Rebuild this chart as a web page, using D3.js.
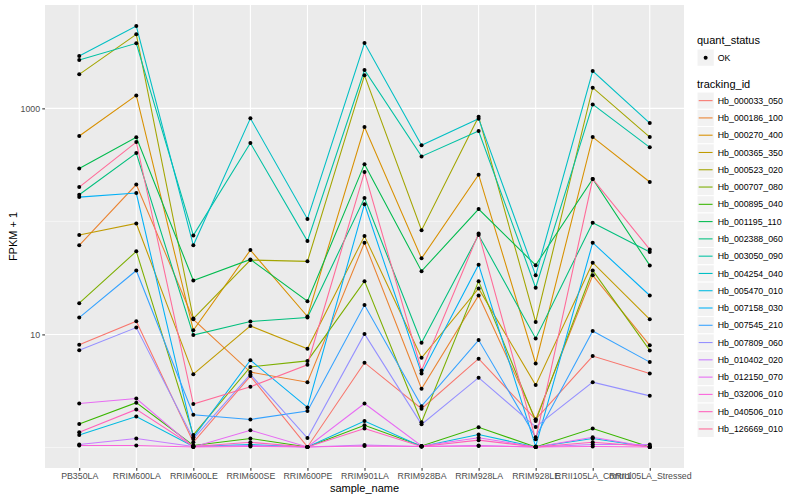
<!DOCTYPE html>
<html>
<head>
<meta charset="utf-8">
<script src="https://cdn.jsdelivr.net/npm/d3@7"></script>
<style>
	body { margin: 0; background: #fff; }
	text { font-family: "Liberation Sans", Arial, Helvetica, sans-serif; }
</style>
</head>
<body>
<svg id="chart"></svg>
<script>
'use strict';

// sample names on the x axis
var samples = ['PB350LA', 'RRIM600LA', 'RRIM600LE', 'RRIM600SE', 'RRIM600PE', 'RRIM901LA',
	'RRIM928BA', 'RRIM928LA', 'RRIM928LE', 'RRII105LA_Control', 'RRII105LA_Stressed'];

var Hb_000033_050 = [7.1, 12.1, 0.11, 3.28, 0.01, 4.62, 1.20, 5.10, 0.77, 5.43, 3.52];
var Hb_000186_100 = [60.4, 211, 12.6, 3.64, 2.78, 63.8, 2.31, 21.1, 0.77, 32.3, 7.0];
var Hb_000270_400 = [568, 1302, 9.9, 54.7, 13.4, 682, 46.1, 258, 4.53, 556, 222];
var Hb_000365_350 = [74.7, 94.9, 3.45, 10.9, 6.47, 73.1, 5.22, 24.5, 2.56, 42.1, 12.6];
var Hb_000523_020 = [1999, 4518, 12.8, 44.5, 43.3, 1958, 82.7, 844, 11.9, 1524, 556];
var Hb_000707_080 = [17.9, 53.3, 0.29, 4.16, 4.83, 28.6, 0.67, 28.6, 0.71, 35.8, 6.22];
var Hb_000895_040 = [0.61, 1.49, 0.04, 0.20, 0.01, 0.57, 0.03, 0.51, 0.01, 0.47, 0.01];
var Hb_001195_110 = [293, 553, 29.0, 45.1, 18.7, 320, 35.3, 127.5, 40.0, 236, 39.8];
var Hb_002388_060 = [171, 401, 8.86, 12.0, 13.1, 160, 7.45, 74.7, 8.22, 96.3, 52.5];
var Hb_003050_090 = [2674, 3759, 74.2, 492, 65.9, 2182, 375, 629, 24.9, 1083, 451];
var Hb_004254_040 = [2903, 5349, 60.4, 815, 104, 3783, 470, 810, 32.3, 2138, 740];
var Hb_005470_010 = [0.29, 0.88, 0.02, 0.06, 0.01, 0.71, 0.02, 0.30, 0.01, 0.20, 0.01];
var Hb_007158_030 = [163, 177, 0.23, 4.92, 1.26, 141, 3.52, 40.4, 0.02, 63.8, 21.1];
var Hb_007545_210 = [13.1, 35.8, 0.95, 0.77, 1.10, 17.2, 1.32, 7.91, 0.23, 9.7, 4.69];
var Hb_007809_060 = [6.26, 10.5, 0.19, 3.43, 0.21, 9.1, 0.60, 3.14, 0.52, 2.78, 1.86];
var Hb_010402_020 = [0.06, 0.20, 0.02, 0.04, 0.01, 0.05, 0.02, 0.04, 0.01, 0.06, 0.06];
var Hb_012150_070 = [1.45, 1.71, 0.01, 0.42, 0.01, 1.45, 0.03, 0.22, 0.01, 0.23, 0.01];
var Hb_032006_010 = [0.04, 0.04, 0.01, 0.02, 0.01, 0.03, 0.02, 0.03, 0.01, 0.02, 0.01];
var Hb_040506_010 = [0.36, 1.17, 0.02, 0.11, 0.01, 0.47, 0.02, 0.16, 0.01, 0.11, 0.02];
var Hb_126669_010 = [200, 502, 1.42, 2.44, 4.39, 272, 3.80, 77.3, 0.18, 236, 55.5];

var trackingIds = ['Hb_000033_050', 'Hb_000186_100', 'Hb_000270_400', 'Hb_000365_350', 'Hb_000523_020',
	'Hb_000707_080', 'Hb_000895_040', 'Hb_001195_110', 'Hb_002388_060', 'Hb_003050_090',
	'Hb_004254_040', 'Hb_005470_010', 'Hb_007158_030', 'Hb_007545_210', 'Hb_007809_060',
	'Hb_010402_020', 'Hb_012150_070', 'Hb_032006_010', 'Hb_040506_010', 'Hb_126669_010'];

var fpkmById = [Hb_000033_050, Hb_000186_100, Hb_000270_400, Hb_000365_350, Hb_000523_020,
	Hb_000707_080, Hb_000895_040, Hb_001195_110, Hb_002388_060, Hb_003050_090,
	Hb_004254_040, Hb_005470_010, Hb_007158_030, Hb_007545_210, Hb_007809_060,
	Hb_010402_020, Hb_012150_070, Hb_032006_010, Hb_040506_010, Hb_126669_010];

var yBreaks = [10, 1000],
	yMinorBreaks = [1, 100];

var WIDTH = 800,
	HEIGHT = 500;

var panel = {
	left: 45,
	right: 684,
	top: 5,
	bottom: 468,
};

var panelFill = '#EBEBEB',
	textGrey = '#4D4D4D',
	tickGrey = '#333333';

// R's hcl() (polar LUV) -> hex, so the palette matches ggplot's hue_pal
function hclToHex(h, c, l) {
	var hr = h * Math.PI / 180;
	var U = c * Math.cos(hr),
		V = c * Math.sin(hr);
	var Xn = 95.047, Yn = 100, Zn = 108.883;
	var Y = l > 8 ? Yn * Math.pow((l + 16) / 116, 3) : Yn * l / 903.3;
	var t = Xn + 15 * Yn + 3 * Zn;
	var u = U / (13 * l) + 4 * Xn / t,
		v = V / (13 * l) + 9 * Yn / t;
	var X = 9 * Y * u / (4 * v);
	var Z = -X / 3 - 5 * Y + 3 * Y / v;
	X /= 100; Y /= 100; Z /= 100;
	var rgb = [
		3.240479 * X - 1.537150 * Y - 0.498535 * Z,
		-0.969256 * X + 1.875992 * Y + 0.041556 * Z,
		0.055648 * X - 0.204043 * Y + 1.057311 * Z
	].map(function (c) {
		c = c <= 0.0031308 ? 12.92 * c : 1.055 * Math.pow(c, 1 / 2.4) - 0.055;
		return Math.round(255 * Math.max(0, Math.min(1, c)));
	});
	return d3.rgb(rgb[0], rgb[1], rgb[2]).formatHex();
}

var n = trackingIds.length;
var palette = trackingIds.map(function (d, i) {
	return hclToHex(15 + i * 360 / n, 100, 65);
});

var color = d3.scaleOrdinal()
	.domain(trackingIds)
	.range(palette);

var series = trackingIds.map(function (id, i) {
	return {
		id: id,
		values: samples.map(function (s, j) {
			return { sample: s, fpkm: fpkmById[i][j] };
		})
	};
});

var allPoints = [];
series.forEach(function (s) {
	s.values.forEach(function (v) { allPoints.push(v); });
});

var svg = d3.select('#chart')
	.attr('width', WIDTH)
	.attr('height', HEIGHT);

svg.append('rect')
	.attr('width', WIDTH)
	.attr('height', HEIGHT)
	.style('fill', '#fff');

// x: discrete, 0.6 step of padding each side like ggplot
var x = d3.scalePoint()
	.domain(samples)
	.range([panel.left, panel.right])
	.padding(0.6);

// y: log10 of FPKM + 1, expanded 5% each side
var ext = d3.extent(allPoints, function (d) { return Math.log10(d.fpkm + 1); });
var pad = (ext[1] - ext[0]) * 0.05;
var y = d3.scaleLog()
	.domain([Math.pow(10, ext[0] - pad), Math.pow(10, ext[1] + pad)])
	.range([panel.bottom, panel.top]);

svg.append('rect')
	.attr('x', panel.left)
	.attr('y', panel.top)
	.attr('width', panel.right - panel.left)
	.attr('height', panel.bottom - panel.top)
	.style('fill', panelFill);

svg.selectAll('.minor-grid')
	.data(yMinorBreaks)
	.enter()
	.append('line')
	.classed('minor-grid', 1)
	.attr('x1', panel.left)
	.attr('x2', panel.right)
	.attr('y1', function (d) { return y(d); })
	.attr('y2', function (d) { return y(d); })
	.style('stroke', '#fff')
	.style('stroke-width', 0.53);

svg.selectAll('.major-grid-y')
	.data(yBreaks)
	.enter()
	.append('line')
	.classed('major-grid-y', 1)
	.attr('x1', panel.left)
	.attr('x2', panel.right)
	.attr('y1', function (d) { return y(d); })
	.attr('y2', function (d) { return y(d); })
	.style('stroke', '#fff')
	.style('stroke-width', 1.07);

svg.selectAll('.major-grid-x')
	.data(samples)
	.enter()
	.append('line')
	.classed('major-grid-x', 1)
	.attr('x1', function (d) { return x(d); })
	.attr('x2', function (d) { return x(d); })
	.attr('y1', panel.top)
	.attr('y2', panel.bottom)
	.style('stroke', '#fff')
	.style('stroke-width', 1.07);

var line = d3.line()
	.x(function (d) { return x(d.sample); })
	.y(function (d) { return y(d.fpkm + 1); });

svg.selectAll('.gene-line')
	.data(series)
	.enter()
	.append('path')
	.classed('gene-line', 1)
	.attr('d', function (d) { return line(d.values); })
	.style('fill', 'none')
	.style('stroke', function (d) { return color(d.id); })
	.style('stroke-width', 1.07);

svg.selectAll('.gene-point')
	.data(allPoints)
	.enter()
	.append('circle')
	.classed('gene-point', 1)
	.attr('cx', function (d) { return x(d.sample); })
	.attr('cy', function (d) { return y(d.fpkm + 1); })
	.attr('r', 2)
	.style('fill', '#000');

// axes
var yAxis = svg.append('g')
	.attr('transform', 'translate(' + panel.left + ',0)')
	.call(d3.axisLeft(y)
		.tickValues(yBreaks)
		.tickFormat(d3.format('d'))
		.tickSize(2.74)
		.tickPadding(2.2));

var xAxis = svg.append('g')
	.attr('transform', 'translate(0,' + panel.bottom + ')')
	.call(d3.axisBottom(x)
		.tickSize(2.74)
		.tickPadding(2.2));

[yAxis, xAxis].forEach(function (g) {
	g.select('.domain').remove();
	g.selectAll('.tick line')
		.style('stroke', tickGrey)
		.style('stroke-width', 1.07);
	g.selectAll('.tick text')
		.style('fill', textGrey)
		.style('font-size', '8.8px')
		.style('font-family', '"Liberation Sans", Arial, sans-serif');
});

svg.append('text')
	.attr('x', (panel.left + panel.right) / 2)
	.attr('y', 492)
	.style('text-anchor', 'middle')
	.style('font-size', '11px')
	.style('fill', '#000')
	.text('sample_name');

svg.append('text')
	.attr('transform', 'translate(17,' + ((panel.top + panel.bottom) / 2) + ') rotate(-90)')
	.style('text-anchor', 'middle')
	.style('font-size', '11px')
	.style('fill', '#000')
	.text('FPKM + 1');

// legends
var KEY = 17.28,
	legendX = 697;

svg.append('text')
	.attr('x', legendX)
	.attr('y', 44)
	.style('font-size', '11px')
	.text('quant_status');

svg.append('rect')
	.attr('x', legendX)
	.attr('y', 49)
	.attr('width', KEY)
	.attr('height', KEY)
	.style('fill', '#F2F2F2')
	.style('stroke', '#fff');

svg.append('circle')
	.attr('cx', legendX + KEY / 2)
	.attr('cy', 49 + KEY / 2)
	.attr('r', 2)
	.style('fill', '#000');

svg.append('text')
	.attr('x', legendX + KEY + 3.5)
	.attr('y', 49 + KEY / 2)
	.attr('dy', '0.35em')
	.style('font-size', '8.8px')
	.text('OK');

svg.append('text')
	.attr('x', legendX)
	.attr('y', 88)
	.style('font-size', '11px')
	.text('tracking_id');

var keys = svg.selectAll('.legend-key')
	.data(trackingIds)
	.enter()
	.append('g')
	.classed('legend-key', 1)
	.attr('transform', function (d, i) {
		return 'translate(' + legendX + ',' + (92 + i * KEY) + ')';
	});

keys.append('rect')
	.attr('width', KEY)
	.attr('height', KEY)
	.style('fill', '#F2F2F2')
	.style('stroke', '#fff');

keys.append('line')
	.attr('x1', 1.7)
	.attr('x2', KEY - 1.7)
	.attr('y1', KEY / 2)
	.attr('y2', KEY / 2)
	.style('stroke', function (d) { return color(d); })
	.style('stroke-width', 1.07);

keys.append('text')
	.attr('x', KEY + 3.5)
	.attr('y', KEY / 2)
	.attr('dy', '0.35em')
	.style('font-size', '8.8px')
	.text(function (d) { return d; });
</script>
</body>
</html>
